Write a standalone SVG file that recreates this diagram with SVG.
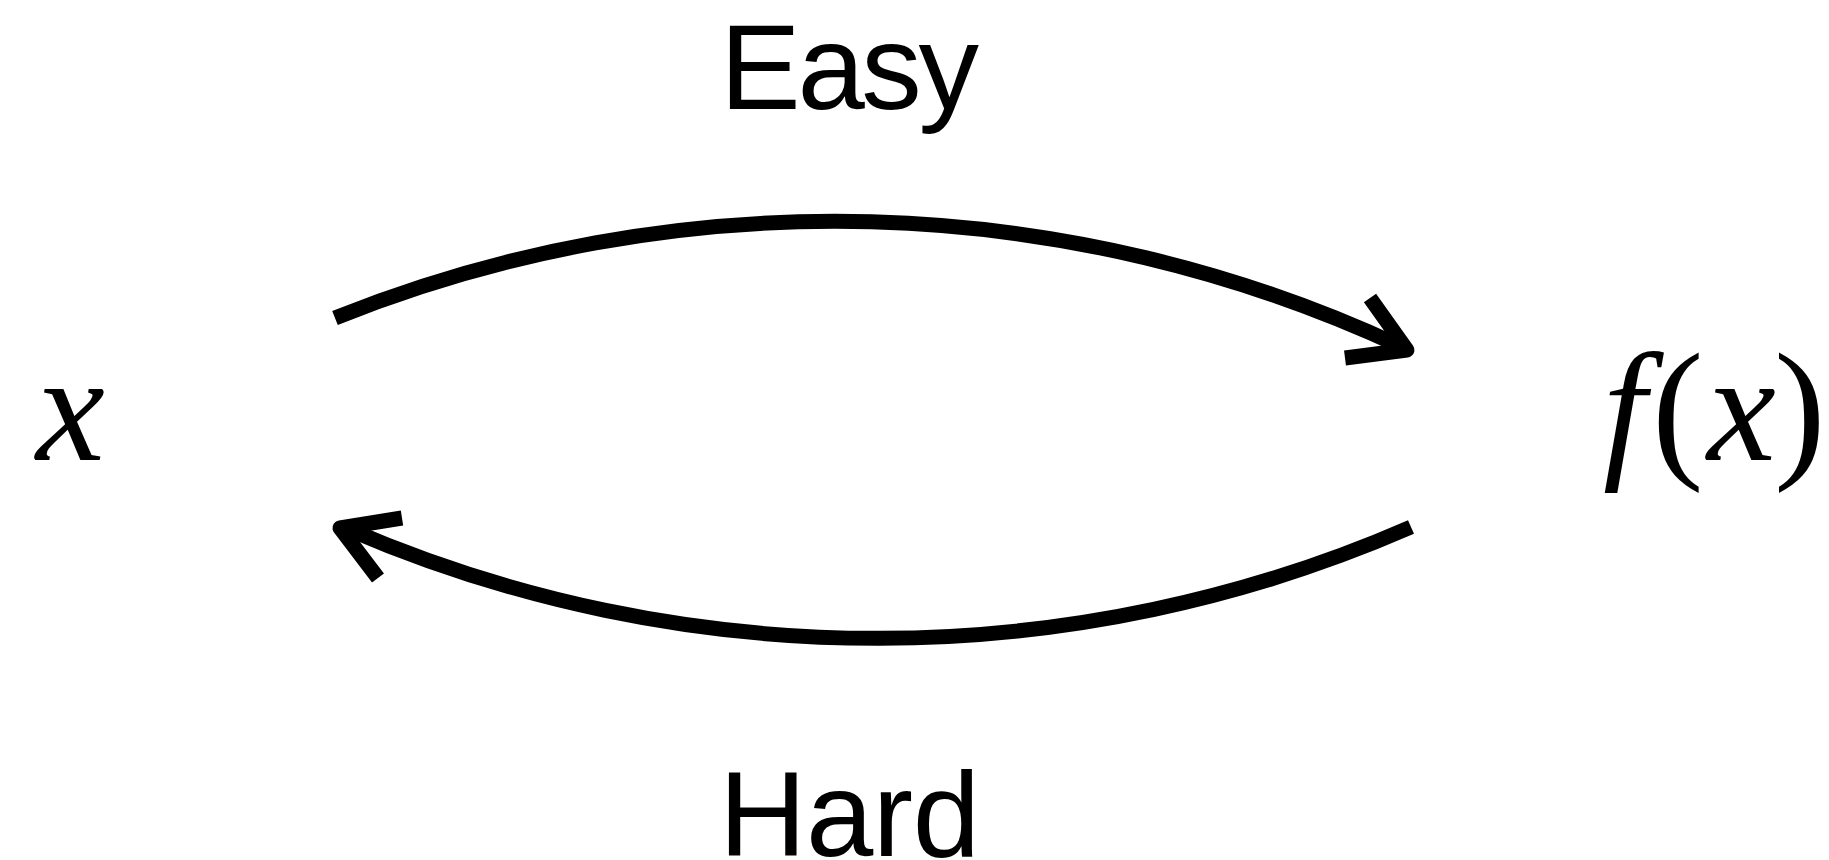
<svg xmlns="http://www.w3.org/2000/svg" width="1829" height="860" viewBox="0 0 1829 860">
<style>
.edge{fill:none;stroke:#000;stroke-width:15;stroke-linecap:butt}
.head{fill:none;stroke:#000;stroke-width:15;stroke-linejoin:round;stroke-linecap:butt}
.lbl{font-family:"Liberation Sans",Arial,sans-serif;font-size:121px;fill:#000}
.math{font-family:"Liberation Serif","Times New Roman",serif;font-style:italic;font-size:155px;fill:#000}
.paren{font-family:"Liberation Serif","Times New Roman",serif;font-size:155px;fill:#000}
</style>
<rect width="1829" height="860" fill="#fff"/>
<g id="node-x">
<text class="math" x="36" y="460">x</text>
</g>
<g id="node-fx">
<text class="math" x="1603" y="460">f</text>
<text class="paren" x="1652" y="460">(</text>
<text class="math" x="1707" y="460">x</text>
<text class="paren" x="1774" y="460">)</text>
</g>
<g id="connectors">
<path class="edge" d="M335 318 A1342 1342 0 0 1 1402 347"/>
<polyline class="head" points="1370,298 1407,350 1345,358"/>
<path class="edge" d="M1411 527 A1335 1335 0 0 1 348 529"/>
<polyline class="head" points="402,518 340,528 378,578"/>
</g>
<g id="label-easy">
<text class="lbl" x="720" y="109" textLength="259" lengthAdjust="spacing">Easy</text>
</g>
<g id="label-hard">
<text class="lbl" x="719" y="856" textLength="261" lengthAdjust="spacing">Hard</text>
</g>
</svg>
